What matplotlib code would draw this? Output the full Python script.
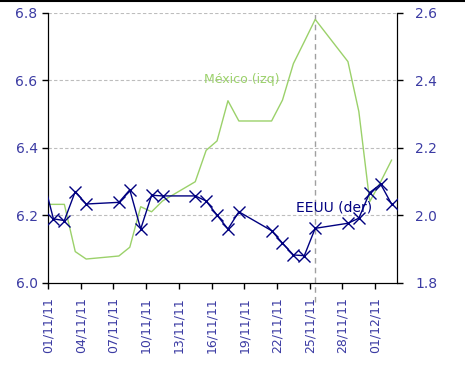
import numpy as np
import pandas as pd
import matplotlib
matplotlib.use("Agg")
import matplotlib.pyplot as plt
from matplotlib.lines import Line2D

# business days, 31/10/11 -> 02/12/11
fechas = pd.to_datetime([
    "2011-10-31", "2011-11-01", "2011-11-02", "2011-11-03", "2011-11-04",
    "2011-11-07", "2011-11-08", "2011-11-09", "2011-11-10", "2011-11-11",
    "2011-11-14", "2011-11-15", "2011-11-16", "2011-11-17", "2011-11-18",
    "2011-11-21", "2011-11-22", "2011-11-23", "2011-11-24", "2011-11-25",
    "2011-11-28", "2011-11-29", "2011-11-30", "2011-12-01", "2011-12-02",
])

mexico = [6.233, 6.233, 6.233, 6.093, 6.071,
          6.080, 6.106, 6.226, 6.211, 6.243,
          6.300, 6.393, 6.421, 6.540, 6.480,
          6.480, 6.542, 6.650, 6.715, 6.781,
          6.656, 6.508, 6.241, 6.300, 6.364]

eeuu = [2.115, 1.990, 1.985, 2.071, 2.034,
        2.039, 2.076, 1.960, 2.060, 2.058,
        2.058, 2.043, 2.001, 1.960, 2.011,
        1.955, 1.918, 1.883, 1.881, 1.962,
        1.977, 1.992, 2.068, 2.093, 2.034]

linea_vertical = pd.Timestamp("2011-11-25")

verde = "#9BD16A"
azul = "#000080"
etiq = "#3B3BA3"
rejilla = "#BDBDBD"

# points sit in the middle of each day
x = fechas + pd.Timedelta(hours=12)

fig = plt.figure(figsize=(4.65, 3.67), dpi=100)
ax = fig.add_axes([0.1032, 0.2289, 0.7506, 0.7357])
ax2 = ax.twinx()

ax.plot(x, mexico, color=verde, lw=1.0, zorder=2)
# 31/10 falls outside the axis, only its segment shows
ax2.plot(x, eeuu, color=azul, lw=1.0, marker="x", ms=8, mew=1.0,
         markevery=list(range(1, len(eeuu))), zorder=3)

ax.set_ylim(6.0, 6.8)
ax.set_yticks([6.0, 6.2, 6.4, 6.6, 6.8])
ax.set_yticklabels(["6.0", "6.2", "6.4", "6.6", "6.8"])
ax2.set_ylim(1.8, 2.6)
ax2.set_yticks([1.8, 2.0, 2.2, 2.4, 2.6])
ax2.set_yticklabels(["1.8", "2.0", "2.2", "2.4", "2.6"])

ax.set_xlim(pd.Timestamp("2011-11-01"), pd.Timestamp("2011-12-03"))
ticks = pd.date_range("2011-11-01", "2011-12-01", freq="3D")
ax.set_xticks(ticks)
ax.set_xticklabels([t.strftime("%d/%m/%y") for t in ticks], rotation=90)

for a in (ax, ax2):
    a.spines["top"].set_visible(False)
    a.tick_params(colors="black", labelcolor=etiq, length=4, width=1)
ax.tick_params(axis="y", labelsize=10)
ax2.tick_params(axis="y", labelsize=10, pad=9)
ax.tick_params(axis="x", labelsize=9, pad=6)

for v in [6.2, 6.4, 6.6, 6.8]:
    ax.axhline(v, color=rejilla, lw=0.8, ls=(0, (3, 2)), zorder=1)

ax.plot([linea_vertical + pd.Timedelta(hours=12)] * 2, [-0.07, 1.0],
        transform=ax.get_xaxis_transform(), color="#A0A0A0", lw=1.0,
        ls=(0, (4, 3)), clip_on=False, zorder=1)

ax.text(pd.Timestamp("2011-11-15 07:00"), 6.602, "México (izq)", color=verde,
        fontsize=9, va="center", ha="left")
ax2.text(pd.Timestamp("2011-11-23 17:00"), 2.023, "EEUU (der)", color=azul,
         fontsize=10, va="center", ha="left")

fig.add_artist(Line2D([0, 1], [0.998, 0.998], color="black", lw=1.5,
                      transform=fig.transFigure))

fig.savefig("out.png", dpi=100)
